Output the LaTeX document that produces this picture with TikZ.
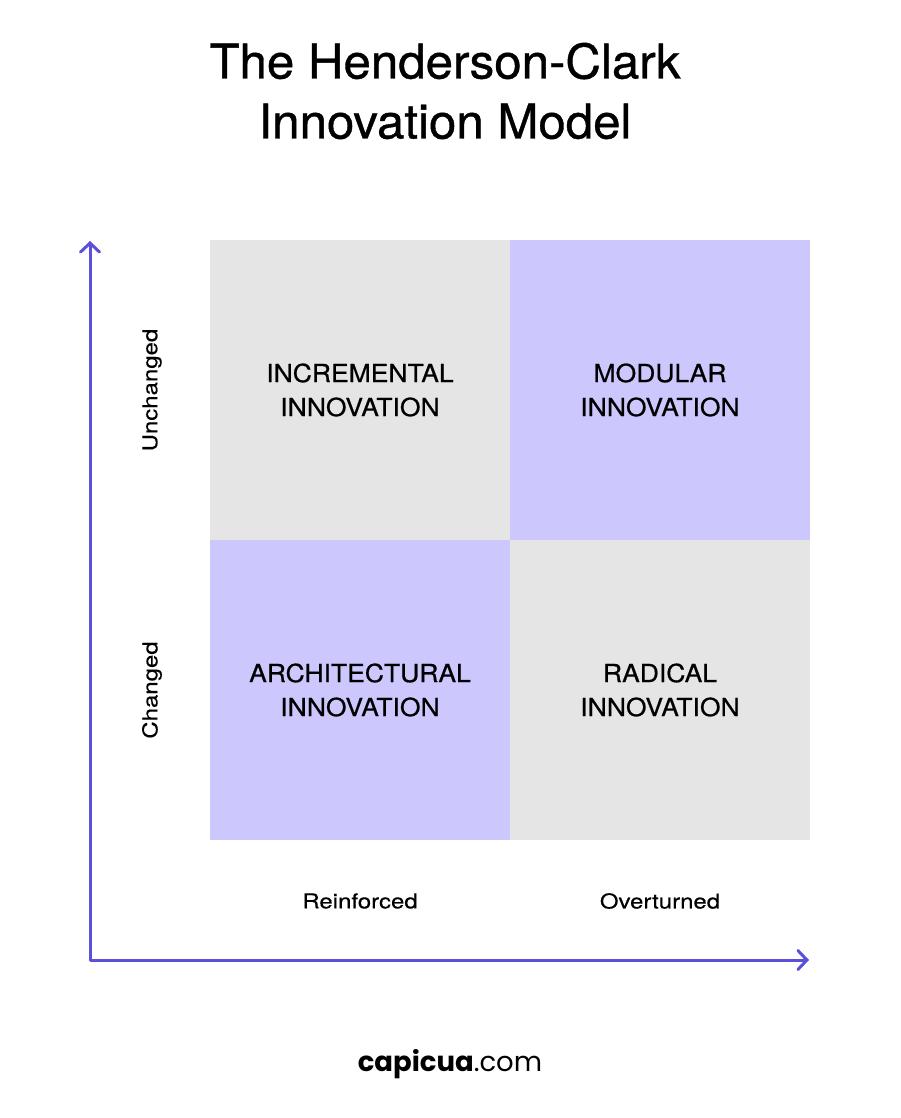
\documentclass[tikz,border=0pt]{standalone}
\usepackage{fontspec}
\setmainfont{TeX Gyre Heros}
\newfontfamily\titlefont[FakeStretch=1.03,FakeBold=0.8]{TeX Gyre Heros}
\newfontfamily\quadfont[FakeStretch=1.06,FakeBold=0.6]{TeX Gyre Heros}
\newfontfamily\axisfont[FakeStretch=1.17,FakeBold=0.3]{TeX Gyre Heros}
\newfontfamily\logofont{Poppins}
\usetikzlibrary{arrows.meta}
\definecolor{axisblue}{RGB}{91,80,220}
\definecolor{lavender}{RGB}{204,200,253}
\definecolor{lightgray}{RGB}{229,229,229}
\begin{document}
\begin{tikzpicture}[x=1pt,y=-1pt,
  quad/.style={rectangle,minimum width=300pt,minimum height=300pt,inner sep=0pt,outer sep=0pt,
    font=\quadfont\fontsize{25}{34}\selectfont,align=center,text=black},
  axislabel/.style={font=\axisfont\fontsize{20.5}{24}\selectfont,text=black,inner sep=0pt},
  axisline/.style={draw=axisblue,line width=3pt,line cap=round,line join=round,
    arrows={Straight Barb[length=9pt,width=19pt,line cap=round]-Straight Barb[length=9pt,width=19pt,line cap=round]}}
]
\useasboundingbox[fill=white] (0,0) rectangle (900,1118);
\node[font=\titlefont\fontsize{47.8}{60}\selectfont,align=center,inner sep=0pt] (title) at (445,91)
  {The Henderson-Clark\\Innovation Model};
\node[quad,fill=lightgray] (incr) at (360,390) {INCREMENTAL\\INNOVATION};
\node[quad,fill=lavender] (modu) at (660,390) {MODULAR\\INNOVATION};
\node[quad,fill=lavender] (arch) at (360,690) {ARCHITECTURAL\\INNOVATION};
\node[quad,fill=lightgray] (radi) at (660,690) {RADICAL\\INNOVATION};
\node[axislabel,rotate=90] (unch) at (152,390) {Unchanged};
\node[axislabel,rotate=90] (chg) at (152,690) {Changed};
\node[axislabel] (reinf) at (360,901) {Reinforced};
\node[axislabel] (overt) at (660,901) {Overturned};
\coordinate (ytop) at (90,241);
\coordinate (origin) at (90,960);
\coordinate (xend) at (809,960);
\draw[axisline] (ytop) -- (origin) -- (xend);
\node[inner sep=0pt,font=\fontsize{27.5}{30}\selectfont\logofont] (logo) at (450,1064)
  {\textbf{capicua}.com};
\end{tikzpicture}
\end{document}
